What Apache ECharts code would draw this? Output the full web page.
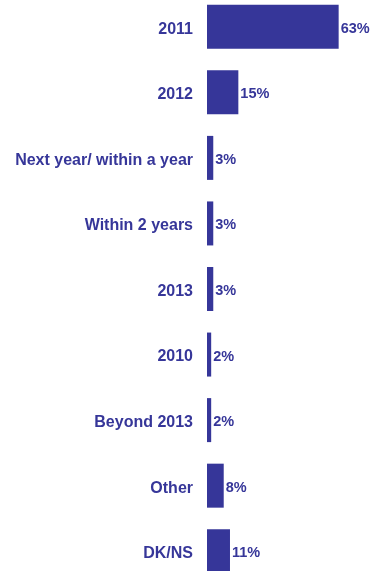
<!DOCTYPE html>
<html>
<head>
<meta charset="utf-8">
<script src="https://cdn.jsdelivr.net/npm/echarts@6/dist/echarts.min.js"></script>
<style>
  html, body { margin: 0; padding: 0; background: #ffffff; }
  #chart { width: 370px; height: 571px; }
</style>
</head>
<body>
<div id="chart"></div>
<script>
// Expected timing responses, share of respondents (%)
const categories = ['2011', '2012', 'Next year/ within a year', 'Within 2 years', '2013', '2010', 'Beyond 2013', 'Other', 'DK/NS'];
const values = [63, 15, 3, 3, 3, 2, 2, 8, 11];

const barColor = '#363699';
const textColor = '#363699';
const font = '"Liberation Sans", Arial, sans-serif';

const chart = echarts.init(document.getElementById('chart'), null, { renderer: 'canvas' });
chart.setOption({
  animation: false,
  grid: { left: 207, top: -6, width: 163, height: 590, outerBoundsMode: 'none', containLabel: false },
  xAxis: {
    type: 'value', min: 0, max: 78,
    show: false
  },
  yAxis: {
    type: 'category',
    data: categories,
    inverse: true,
    axisLine: { show: false },
    axisTick: { show: false },
    axisLabel: {
      margin: 14,
      formatter: '{c|{value}}',
      rich: {
        c: {
          padding: [5, 0, 0, 0],
          color: textColor,
          fontFamily: font,
          fontWeight: 'bold',
          fontSize: 16
        }
      }
    }
  },
  series: [{
    type: 'bar',
    data: values,
    barWidth: 44,
    itemStyle: { color: barColor },
    label: {
      show: true,
      position: 'right',
      distance: 2,
      offset: [0, 2],
      formatter: '{c}%',
      color: textColor,
      fontFamily: font,
      fontWeight: 'bold',
      fontSize: 14.5
    }
  }]
});
</script>
</body>
</html>
